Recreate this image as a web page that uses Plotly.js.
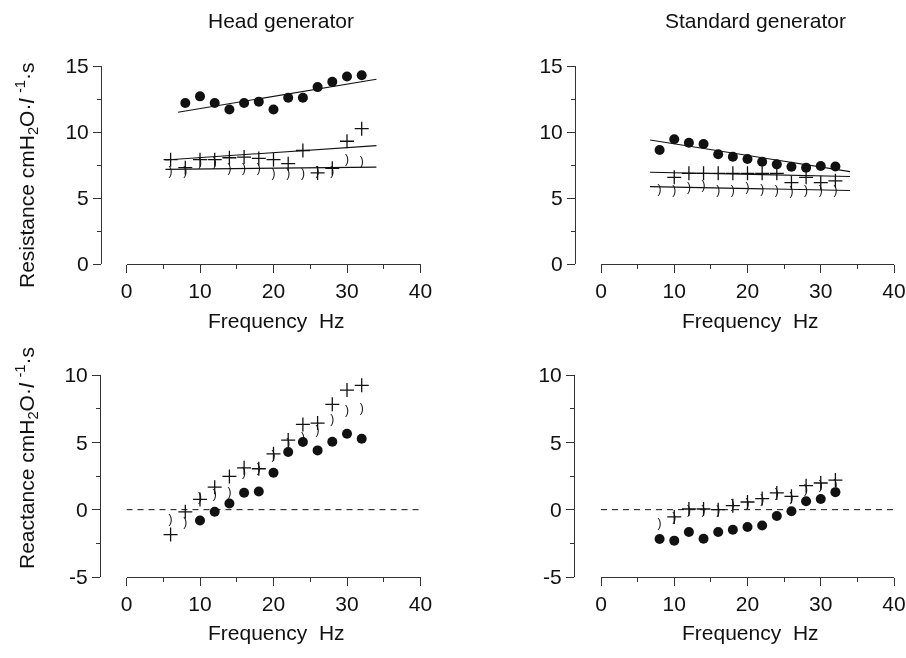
<!DOCTYPE html>
<html>
<head>
<meta charset="utf-8">
<script src="https://cdn.plot.ly/plotly-3.0.1.min.js"></script>
<style>
html,body{margin:0;padding:0;background:#fff;}
#chart{width:906px;height:658px;}
#chart .main-svg{filter:grayscale(1);}
</style>
</head>
<body>
<div id="chart"></div>
<script>
// ---------- data ----------
// Head generator, resistance
const headResFreqCircle = [8,10,12,14,16,18,20,22,24,26,28,30,32];
const headResCircle     = [12.2,12.7,12.2,11.7,12.2,12.3,11.7,12.6,12.6,13.4,13.8,14.2,14.3];
const headResFreqCross  = [6,8,10,12,14,16,18,20,22,24,26,28,30,32];
const headResCross      = [7.9,7.3,7.9,7.9,8.05,8.1,8.0,7.9,7.6,8.6,6.9,7.25,9.3,10.25];
const headResFreqCresc  = [6,8,10,12,14,16,18,20,22,24,26,28,30,32];
const headResCresc      = [7.0,7.0,7.65,7.65,7.2,7.2,7.2,6.8,6.8,6.8,7.0,7.0,7.9,7.7];
const headResFitFreq    = [[7,34],[5.3,34],[5.3,34]];
const headResFitVal     = [[11.49,14.0],[7.88,8.97],[7.17,7.34]];

// Standard generator, resistance
const stdResFreqCircle = [8,10,12,14,16,18,20,22,24,26,28,30,32];
const stdResCircle     = [8.64,9.45,9.19,9.09,8.31,8.13,7.95,7.75,7.55,7.37,7.30,7.42,7.38];
const stdResFreqCross  = [10,12,14,16,18,20,22,24,26,28,30,32];
const stdResCross      = [6.57,6.87,6.87,6.87,6.87,6.87,6.87,6.87,6.16,6.57,6.16,6.3];
const stdResFreqCresc  = [8,10,12,14,16,18,20,22,24,26,28,30,32];
const stdResCresc      = [5.6,5.55,5.78,5.9,5.55,5.55,5.73,5.6,5.55,5.48,5.55,5.55,5.5];
const stdResFitFreq    = [[6.7,34],[6.7,34],[6.7,34]];
const stdResFitVal     = [[9.39,7.0],[6.95,6.63],[5.86,5.57]];

// Head generator, reactance
const headReaFreqCircle = [10,12,14,16,18,20,22,24,26,28,30,32];
const headReaCircle     = [-0.80,-0.16,0.46,1.25,1.35,2.74,4.28,5.02,4.40,5.04,5.64,5.27];
const headReaFreqCross  = [6,8,10,12,14,16,18,20,22,24,26,28,30,32];
const headReaCross      = [-1.85,-0.16,0.76,1.67,2.47,3.11,3.04,4.15,5.17,6.33,6.43,7.82,8.88,9.23];
const headReaFreqCresc  = [6,8,10,12,14,16,18,20,22,24,26,28,30,32];
const headReaCresc      = [-0.73,-0.98,0.88,1.08,1.25,2.69,2.99,3.98,4.89,5.34,5.84,6.63,7.32,7.49];

// Standard generator, reactance
const stdReaFreqCircle = [8,10,12,14,16,18,20,22,24,26,28,30,32];
const stdReaCircle     = [-2.18,-2.3,-1.66,-2.16,-1.66,-1.49,-1.29,-1.17,-0.47,-0.12,0.62,0.79,1.3];
const stdReaFreqCross  = [10,12,14,16,18,20,22,24,26,28,30,32];
const stdReaCross      = [-0.54,0.05,0.05,0.0,0.3,0.57,0.82,1.24,0.99,1.78,1.98,2.2];
const stdReaFreqCresc  = [8,10,12,14,16,18,20,22,24,26,28,30,32];
const stdReaCresc      = [-1.04,-0.62,-0.12,-0.12,-0.12,0.37,0.45,0.74,1.19,0.87,1.49,1.73,1.8];

const zeroLineFreq = [0,40];
const zeroLineVal  = [0,0];

const xTickVals = [0,10,20,30,40];
const xTickText = ['0','10','20','30','40'];
const resTickVals = [0,5,10,15];
const resTickText = ['0','5','10','15'];
const reaTickVals = [-5,0,5,10];
const reaTickText = ['-5','0','5','10'];

const panelTitles = ['Head generator','Standard generator'];
const xTitle = 'Frequency  Hz';
const yTitles = ['Resistance cmH<sub>2</sub>O·<i>l</i> <sup>-1</sup>·s','Reactance cmH<sub>2</sub>O·<i>l</i> <sup>-1</sup>·s'];

// ---------- drawing ----------
const FONT = 'Liberation Sans, Arial, Helvetica, sans-serif';
const INK = '#111';
const W = 906, H = 658;
const px = p => p / W;
const py = p => 1 - p / H;

function circles(x, y, ax) {
  return {x, y, xaxis: 'x' + ax, yaxis: 'y' + ax, mode: 'markers', type: 'scatter',
    marker: {symbol: 'circle', size: 10, color: INK}, hoverinfo: 'skip'};
}
function crosses(x, y, ax) {
  return {x, y, xaxis: 'x' + ax, yaxis: 'y' + ax, mode: 'markers', type: 'scatter',
    marker: {symbol: 'cross-thin', size: 10, line: {color: INK, width: 1.3}}, hoverinfo: 'skip'};
}
function crescents(x, y, ax) {
  return {x, y, xaxis: 'x' + ax, yaxis: 'y' + ax, mode: 'text', type: 'scatter',
    text: x.map(() => ')'), textposition: 'middle center', cliponaxis: false,
    textfont: {family: FONT, size: 12, color: INK}, hoverinfo: 'skip'};
}
function fitLines(fx, fy, ax) {
  return fx.map((f, i) => ({x: f, y: fy[i], xaxis: 'x' + ax, yaxis: 'y' + ax, mode: 'lines',
    type: 'scatter', line: {color: INK, width: 1.1}, hoverinfo: 'skip'}));
}
function zeroLine(ax) {
  return {x: zeroLineFreq, y: zeroLineVal, xaxis: 'x' + ax, yaxis: 'y' + ax, mode: 'lines',
    type: 'scatter', line: {color: INK, width: 1, dash: '6px,5px'}, hoverinfo: 'skip'};
}

const ax1 = '', ax2 = '2', ax3 = '3', ax4 = '4';
const data = [
  ...fitLines(headResFitFreq, headResFitVal, ax1),
  circles(headResFreqCircle, headResCircle, ax1),
  crosses(headResFreqCross, headResCross, ax1),
  crescents(headResFreqCresc, headResCresc, ax1),
  ...fitLines(stdResFitFreq, stdResFitVal, ax2),
  circles(stdResFreqCircle, stdResCircle, ax2),
  crosses(stdResFreqCross, stdResCross, ax2),
  crescents(stdResFreqCresc, stdResCresc, ax2),
  zeroLine(ax3),
  circles(headReaFreqCircle, headReaCircle, ax3),
  crosses(headReaFreqCross, headReaCross, ax3),
  crescents(headReaFreqCresc, headReaCresc, ax3),
  zeroLine(ax4),
  circles(stdReaFreqCircle, stdReaCircle, ax4),
  crosses(stdReaFreqCross, stdReaCross, ax4),
  crescents(stdReaFreqCresc, stdReaCresc, ax4)
];

const FS = 21;
const tickFont = {family: FONT, size: FS, color: INK};
function xAxis(domain, anchor) {
  return {domain, anchor, range: [0, 40], tickmode: 'array', tickvals: xTickVals, ticktext: xTickText,
    ticks: 'outside', ticklen: 8, tickwidth: 1, tickcolor: '#333', showline: true, linecolor: '#333', linewidth: 1,
    showgrid: false, zeroline: false, tickfont: tickFont, fixedrange: true, ticklabeloverflow: 'allow',
    minor: {tickvals: [5,15,25,35], ticks: 'outside', ticklen: 4, tickcolor: '#333', showgrid: false}};
}
function yAxis(domain, pos, range, major, labels, minor) {
  return {domain, anchor: 'free', position: pos, range, tickmode: 'array', tickvals: major, ticktext: labels,
    ticks: 'outside', ticklen: 8, tickwidth: 1, tickcolor: '#333', showline: true, linecolor: '#333', linewidth: 1,
    showgrid: false, zeroline: false, tickfont: tickFont, fixedrange: true, ticklabeloverflow: 'allow',
    minor: {tickvals: minor, ticks: 'outside', ticklen: 4, tickcolor: '#333', showgrid: false}};
}
const topDom = [py(264), py(66)];
const botDom = [py(577), py(375)];
const leftX = [px(126.5), px(420.5)];
const rightX = [px(601), px(894)];

const annFont = {family: FONT, size: FS, color: INK};
function ann(text, x, y, extra) {
  return Object.assign({text, x: px(x), y: py(y), xref: 'paper', yref: 'paper', showarrow: false,
    xanchor: 'center', yanchor: 'middle', font: annFont}, extra || {});
}
const layout = {
  width: W, height: H, margin: {l: 0, r: 0, t: 0, b: 0},
  paper_bgcolor: '#fff', plot_bgcolor: 'rgba(0,0,0,0)', showlegend: false,
  font: {family: FONT, color: INK},
  xaxis: xAxis(leftX, 'y'),
  yaxis: yAxis(topDom, px(101), [0, 15], resTickVals, resTickText, [2.5,7.5,12.5]),
  xaxis2: xAxis(rightX, 'y2'),
  yaxis2: yAxis(topDom, px(575), [0, 15], resTickVals, resTickText, [2.5,7.5,12.5]),
  xaxis3: xAxis(leftX, 'y3'),
  yaxis3: yAxis(botDom, px(100), [-5, 10], reaTickVals, reaTickText, [-2.5,2.5,7.5]),
  xaxis4: xAxis(rightX, 'y4'),
  yaxis4: yAxis(botDom, px(574), [-5, 10], reaTickVals, reaTickText, [-2.5,2.5,7.5]),
  annotations: [
    ann(panelTitles[0], 281, 21),
    ann(panelTitles[1], 755, 21),
    ann(xTitle, 276, 320),
    ann(xTitle, 750, 320),
    ann(xTitle, 276, 632),
    ann(xTitle, 750, 632),
    ann(yTitles[0], 26, 176, {textangle: -90}),
    ann(yTitles[1], 26, 458, {textangle: -90})
  ]
};

Plotly.newPlot('chart', data, layout, {staticPlot: true, displayModeBar: false});
</script>
</body>
</html>
